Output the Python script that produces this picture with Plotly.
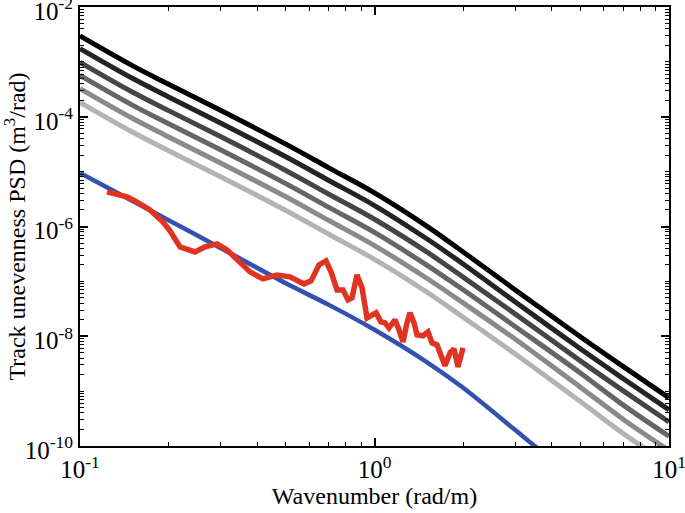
import plotly.graph_objects as go

# Wavenumber grid for the reference spectra (rad/m)
wavenumber = [0.1, 0.15, 0.2, 0.3, 0.5, 0.7, 1, 1.5, 2, 3, 5, 7, 10]

# Six standard spectra (darkest -> lightest), m^3/rad
psd_level1 = [2.965e-3, 8.63e-4, 3.91e-4, 1.312e-4, 3.17e-5, 1.172e-5, 4.09e-6,
              1.026e-6, 3.44e-7, 7.06e-8, 9.79e-9, 2.79e-9, 7.55e-10]
psd_level2 = [1.746e-3, 5.08e-4, 2.30e-4, 7.73e-5, 1.866e-5, 6.90e-6, 2.41e-6,
              6.04e-7, 2.075e-7, 4.26e-8, 5.90e-9, 1.68e-9, 4.55e-10]
psd_level3 = [9.82e-4, 2.86e-4, 1.294e-4, 4.35e-5, 1.05e-5, 3.88e-6, 1.355e-6,
              3.48e-7, 1.194e-7, 2.56e-8, 3.56e-9, 1.01e-9, 2.74e-10]
psd_level4 = [5.65e-4, 1.644e-4, 7.45e-5, 2.50e-5, 6.04e-6, 2.23e-6, 7.80e-7,
              2.0e-7, 7.03e-8, 1.51e-8, 2.14e-9, 5.56e-10, 1.507e-10]
psd_level5 = [3.25e-4, 9.46e-5, 4.29e-5, 1.44e-5, 3.48e-6, 1.285e-6, 4.49e-7,
              1.151e-7, 4.05e-8, 8.89e-9, 1.178e-9, 3.05e-10, 8.28e-11]
psd_level6 = [1.828e-4, 5.32e-5, 2.41e-5, 8.09e-6, 1.954e-6, 7.23e-7, 2.52e-7,
              6.47e-8, 2.22e-8, 4.78e-9, 6.47e-10, 1.68e-10, 4.55e-11]

# Blue reference curve
blue_wavenumber = [0.1, 0.2, 0.3, 0.5, 0.7, 1, 1.5, 2, 3, 3.5, 5]
blue_psd = [9.46e-6, 1.30e-6, 4.07e-7, 9.2e-8, 3.73e-8, 1.31e-8, 3.42e-9,
            1.15e-9, 1.97e-10, 1.0e-10, 2.2e-11]

# Measured (red) spectrum
red_wavenumber = [0.1235, 0.1444, 0.1537, 0.1729, 0.1913, 0.2021, 0.2186, 0.2458,
                  0.2658, 0.2919, 0.3156, 0.3413, 0.3777, 0.4182, 0.4666, 0.5165,
                  0.5763, 0.6087, 0.6479, 0.6844, 0.7116, 0.7461, 0.7816, 0.8128,
                  0.8387, 0.8722, 0.9070, 0.9430, 0.9806, 1.012, 1.052, 1.086,
                  1.120, 1.174, 1.211, 1.250, 1.289, 1.320, 1.362, 1.394, 1.461,
                  1.519, 1.568, 1.630, 1.735, 1.805, 1.862, 1.921, 1.998]
red_psd = [4.27e-6, 3.46e-6, 2.92e-6, 2.00e-6, 1.21e-6, 8.31e-7, 4.25e-7, 3.44e-7,
           4.25e-7, 4.82e-7, 3.75e-7, 2.47e-7, 1.49e-7, 1.11e-7, 1.31e-7, 1.21e-7,
           9.0e-8, 1.02e-7, 2.0e-7, 2.36e-7, 1.49e-7, 7.0e-8, 7.0e-8, 4.60e-8,
           5.0e-8, 1.31e-7, 7.62e-8, 2.16e-8, 2.45e-8, 2.67e-8, 1.83e-8, 1.75e-8,
           1.42e-8, 1.99e-8, 1.31e-8, 7.9e-9, 1.75e-8, 2.67e-8, 1.75e-8, 1.06e-8,
           1.02e-8, 1.20e-8, 7.59e-9, 6.97e-9, 2.89e-9, 4.99e-9, 5.89e-9, 2.77e-9,
           6.15e-9]

x_tickvals = [0.1, 1, 10]
x_ticktext = ["10<sup>-1</sup>", "10<sup>0</sup>", "10<sup>1</sup>"]
y_tickvals = [1e-10, 1e-8, 1e-6, 1e-4, 1e-2]
y_ticktext = ["10<sup>-10</sup>", "10<sup>-8</sup>", "10<sup>-6</sup>",
              "10<sup>-4</sup>", "10<sup>-2</sup>"]

gray_series = [psd_level6, psd_level5, psd_level4, psd_level3, psd_level2, psd_level1]
gray_colors = ["#b3b3b3", "#8a8a8a", "#666666", "#454545", "#242424", "#000000"]

fig = go.Figure()
for ys, col in zip(gray_series, gray_colors):
    fig.add_trace(go.Scatter(x=wavenumber, y=ys, mode="lines",
                             line=dict(color=col, width=5, shape="spline", smoothing=1.0),
                             showlegend=False))
fig.add_trace(go.Scatter(x=blue_wavenumber, y=blue_psd, mode="lines",
                         line=dict(color="#3352b0", width=4.5, shape="spline", smoothing=0.8),
                         showlegend=False))
fig.add_trace(go.Scatter(x=red_wavenumber, y=red_psd, mode="lines",
                         line=dict(color="#e03322", width=5.5),
                         showlegend=False))

font_family = "Liberation Serif, Times New Roman, serif"
axis_common = dict(
    type="log", showgrid=False, zeroline=False, automargin=False,
    showline=True, linecolor="black", linewidth=2, mirror="allticks",
    ticks="inside", ticklen=8, tickwidth=1.5, tickcolor="black",
    minor=dict(ticks="inside", ticklen=4, tickwidth=1, tickcolor="black", dtick="D1", showgrid=False),
    tickfont=dict(family=font_family, size=25, color="black"),
    tickmode="array", ticklabeloverflow="allow",
)
fig.update_xaxes(**axis_common, range=[-1, 1], tickvals=x_tickvals, ticktext=x_ticktext,
                 title=dict(text="Wavenumber (rad/m)",
                            font=dict(family=font_family, size=24, color="black"),
                            standoff=2))
fig.update_yaxes(**axis_common, range=[-10, -2], tickvals=y_tickvals, ticktext=y_ticktext,
                 ticklabelstandoff=0, ticklabelshift=4,
                 title=dict(text="Track unevenness PSD (m<sup>3</sup>/rad)",
                            font=dict(family=font_family, size=24, color="black"),
                            standoff=0))
fig.update_layout(width=685, height=513,
                  margin=dict(l=80, r=16, t=7, b=67),
                  plot_bgcolor="white", paper_bgcolor="white",
                  font=dict(family=font_family, color="black"))
fig.write_html("out.html", config={"displayModeBar": False},
               post_script="document.body.style.margin='0';document.body.style.padding='0';")
